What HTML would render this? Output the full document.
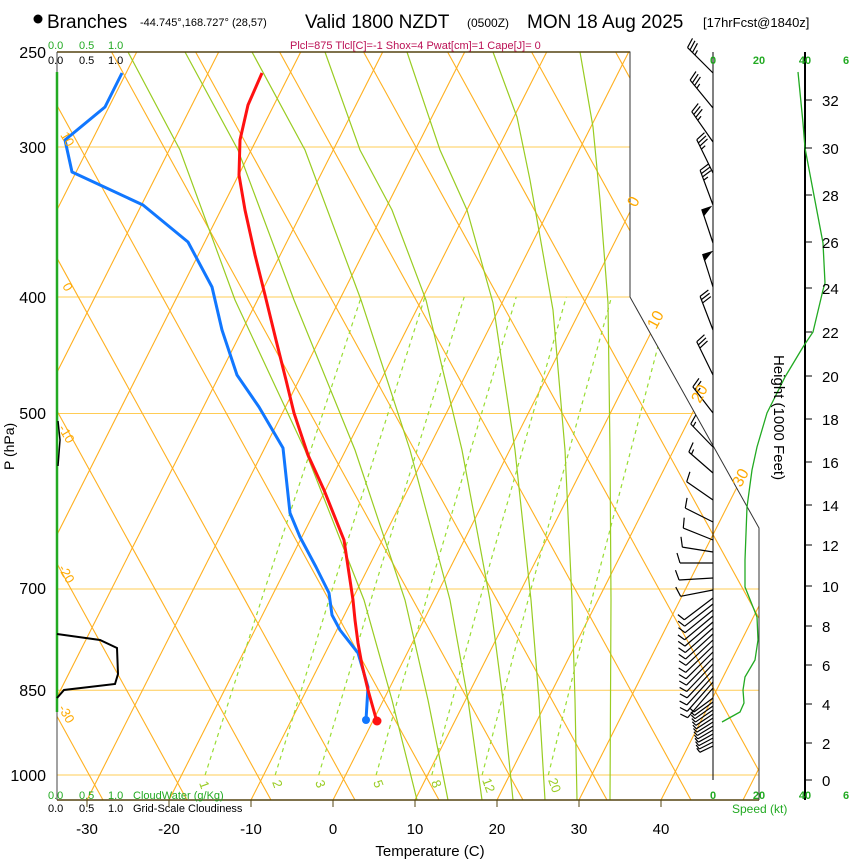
<!DOCTYPE html>
<html><head><meta charset="utf-8"><style>
body{margin:0;background:#fff;}
svg{display:block;font-family:"Liberation Sans",Arial,sans-serif;}
</style></head><body>
<svg width="850" height="860" viewBox="0 0 850 860" xmlns="http://www.w3.org/2000/svg">
<defs><clipPath id="cp"><polygon points="57,52 630,52 630,297 759,528 759,800 57,800"/></clipPath></defs>
<rect width="850" height="860" fill="#fff"/>
<g clip-path="url(#cp)">
<g stroke="#ffcc55" stroke-width="1">
<line x1="57" y1="147" x2="800" y2="147"/><line x1="57" y1="297" x2="800" y2="297"/><line x1="57" y1="413.5" x2="800" y2="413.5"/>
<line x1="57" y1="589" x2="800" y2="589"/><line x1="57" y1="690.2" x2="800" y2="690.2"/><line x1="57" y1="775" x2="800" y2="775"/>
</g>
<g stroke="#ffb020" stroke-width="1.1">
<line x1="-323" y1="800" x2="54.7" y2="52"/><line x1="-241" y1="800" x2="136.7" y2="52"/><line x1="-159" y1="800" x2="218.7" y2="52"/>
<line x1="-77" y1="800" x2="300.7" y2="52"/><line x1="5" y1="800" x2="382.7" y2="52"/><line x1="87" y1="800" x2="464.7" y2="52"/>
<line x1="169" y1="800" x2="546.7" y2="52"/><line x1="251" y1="800" x2="628.7" y2="52"/><line x1="333" y1="800" x2="710.7" y2="52"/>
<line x1="415" y1="800" x2="792.7" y2="52"/><line x1="497" y1="800" x2="874.7" y2="52"/><line x1="579" y1="800" x2="956.7" y2="52"/>
<line x1="661" y1="800" x2="1038.7" y2="52"/><line x1="743" y1="800" x2="1120.7" y2="52"/>
<line x1="103" y1="800" x2="-308.4" y2="52"/><line x1="187" y1="800" x2="-224.4" y2="52"/><line x1="271" y1="800" x2="-140.4" y2="52"/>
<line x1="355" y1="800" x2="-56.4" y2="52"/><line x1="439" y1="800" x2="27.6" y2="52"/><line x1="523" y1="800" x2="111.6" y2="52"/>
<line x1="607" y1="800" x2="195.6" y2="52"/><line x1="691" y1="800" x2="279.6" y2="52"/><line x1="775" y1="800" x2="363.6" y2="52"/>
<line x1="859" y1="800" x2="447.6" y2="52"/><line x1="943" y1="800" x2="531.6" y2="52"/><line x1="1027" y1="800" x2="615.6" y2="52"/>
<line x1="1111" y1="800" x2="699.6" y2="52"/><line x1="1195" y1="800" x2="783.6" y2="52"/>
</g>
<g fill="none" stroke="#99dd33" stroke-width="1.2" stroke-dasharray="4,4">
<polyline points="205.1,775 264.9,589 361.2,297"/>
<polyline points="275.2,775 332.4,589 424.9,297"/>
<polyline points="318.7,775 374.2,589 464.2,297"/>
<polyline points="376.1,775 429.4,589 516.2,297"/>
<polyline points="431.8,775 482.8,589 566.3,297"/>
<polyline points="482.1,775 531,589 611.5,297"/>
<polyline points="548.3,775 594.5,589 670.9,297"/>
</g>
<g fill="none" stroke="#99cc22" stroke-width="1.2">
<polyline points="128,52 180,150 235,300 305,450 364,600 392,700 417,800"/>
<polyline points="185,52 238,150 294,300 355,450 405,600 428,700 448,800"/>
<polyline points="252,52 305,150 361,300 410,450 450,600 468,700 482,800"/>
<polyline points="325,52 360,150 392,210 426,300 462,450 490,600 503,700 513,800"/>
<polyline points="407,52 440,150 467,210 493,303 515,450 531,600 539,700 545,800"/>
<polyline points="493,52 517,117 530,180 553,310 565,450 572,600 575,700 577,800"/>
<polyline points="580,52 593,127 600,200 608,303 610,450 611,600 610,800"/>
</g>
</g>
<polyline points="57,52 630,52 630,297 759,528 759,800" fill="none" stroke="#333" stroke-width="1"/>
<line x1="57" y1="52" x2="630" y2="52" stroke="#554411" stroke-width="1.5"/>
<line x1="57" y1="800" x2="759" y2="800" stroke="#554411" stroke-width="1.5"/>
<line x1="57" y1="52" x2="57" y2="800" stroke="#444" stroke-width="1"/>
<line x1="57" y1="72" x2="57" y2="712" stroke="#22aa22" stroke-width="2.5"/>
<polyline points="58,421 60,440 58,466" fill="none" stroke="#000" stroke-width="1.5"/>
<polyline points="57,634 100,640 117,648 118,674 115,684 64,690 57,698" fill="none" stroke="#000" stroke-width="2"/>
<polyline points="122,73 105,107 65,140 72,172 143,205 188,242 212,287 222,330 237,375 259,407 283,448 290,513 300,537 316,567 329,593 332,615 340,630 358,653 368,687 366,720" fill="none" stroke="#1177ff" stroke-width="3" stroke-linejoin="round"/>
<polyline points="262,73 248,105 240,140 239,175 245,210 255,255 265,295 276,340 286,380 294,413 308,455 324,490 344,540 353,600 355,620 358,643 362,665 368,690 377,722" fill="none" stroke="#ff1111" stroke-width="3" stroke-linejoin="round"/>
<circle cx="366" cy="720" r="4" fill="#1177ff"/>
<circle cx="377" cy="721" r="4.5" fill="#ff1111"/>
<line x1="713" y1="52" x2="713" y2="780" stroke="#000" stroke-width="1"/>
<line x1="805" y1="52" x2="805" y2="800" stroke="#000" stroke-width="2"/>
<g stroke="#000" stroke-width="1.2" fill="none">
<g transform="translate(713,73) rotate(225)"><path d="M0 0H36M36 0l3 10M32.5 0l3 10M29 0l3 10M25.5 0l1.5 5"/></g>
<g transform="translate(713,108) rotate(230.6)"><path d="M0 0H36M36 0l3 10M32.5 0l3 10M29 0l3 10M25.5 0l1.5 5"/></g>
<g transform="translate(713,142) rotate(235)"><path d="M0 0H37M37 0l3 10M33.5 0l3 10M30 0l3 10M26.5 0l1.5 5"/></g>
<g transform="translate(713,173) rotate(244)"><path d="M0 0H37M37 0l3 10M33.5 0l3 10M30 0l3 10M26.5 0l1.5 5"/></g>
<g transform="translate(713,205) rotate(249.6)"><path d="M0 0H37M37 0l3 10M33.5 0l3 10M30 0l3 10M26.5 0l1.5 5"/></g>
<g transform="translate(713,243) rotate(251.6)"><path d="M0 0H35"/><polygon points="35,0 35,9 29,0" fill="#000"/></g>
<g transform="translate(713,287) rotate(252.6)"><path d="M0 0H34"/><polygon points="34,0 34,9 28,0" fill="#000"/></g>
<g transform="translate(713,330) rotate(249)"><path d="M0 0H36M36 0l3 10M32.5 0l3 10M29 0l3 10"/></g>
<g transform="translate(713,375) rotate(244)"><path d="M0 0H37M37 0l3 10M33.5 0l3 10M30 0l3 10"/></g>
<g transform="translate(713,413) rotate(232.4)"><path d="M0 0H33M33 0l3 10M29.5 0l3 10M26 0l1.5 5"/></g>
<g transform="translate(713,447) rotate(226)"><path d="M0 0H32M32 0l3 10M28.5 0l1.5 5"/></g>
<g transform="translate(713,473) rotate(221)"><path d="M0 0H32M32 0l3 10M28.5 0l1.5 5"/></g>
<g transform="translate(713,500) rotate(214.7)"><path d="M0 0H32M32 0l3 10"/></g>
<g transform="translate(713,522) rotate(206.6)"><path d="M0 0H31M31 0l3 10"/></g>
<g transform="translate(713,540) rotate(201.8)"><path d="M0 0H32M32 0l3 10"/></g>
<g transform="translate(713,552) rotate(189)"><path d="M0 0H31M31 0l3 10"/></g>
<g transform="translate(713,563) rotate(180)"><path d="M0 0H33M33 0l3 10"/></g>
<g transform="translate(713,578) rotate(176.6)"><path d="M0 0H34M34 0l3 10"/></g>
<g transform="translate(713,590) rotate(169)"><path d="M0 0H33M33 0l3 10"/></g>
<g transform="translate(713,598) rotate(142.8)"><path d="M0 0H36M36 0l2 8"/></g>
<g transform="translate(713,604) rotate(141.9)"><path d="M0 0H36M36 0l2 8"/></g>
<g transform="translate(713,610) rotate(141)"><path d="M0 0H36M36 0l2 8"/></g>
<g transform="translate(713,616) rotate(140.1)"><path d="M0 0H37M37 0l2 8"/></g>
<g transform="translate(713,622) rotate(139.3)"><path d="M0 0H37M37 0l2 8"/></g>
<g transform="translate(713,628) rotate(138.5)"><path d="M0 0H37M37 0l2 8"/></g>
<g transform="translate(713,634) rotate(137.6)"><path d="M0 0H37M37 0l2 8"/></g>
<g transform="translate(713,640) rotate(136.8)"><path d="M0 0H37M37 0l2 8"/></g>
<g transform="translate(713,646) rotate(136)"><path d="M0 0H38M38 0l2 8"/></g>
<g transform="translate(713,652) rotate(135.2)"><path d="M0 0H38M38 0l2 8"/></g>
<g transform="translate(713,658) rotate(134.4)"><path d="M0 0H38M38 0l2 8"/></g>
<g transform="translate(713,664) rotate(133.6)"><path d="M0 0H38M38 0l2 8"/></g>
<g transform="translate(713,670) rotate(132.9)"><path d="M0 0H38M38 0l2 8"/></g>
<g transform="translate(713,676) rotate(132.1)"><path d="M0 0H39M39 0l2 8"/></g>
<g transform="translate(713,682) rotate(131.3)"><path d="M0 0H39M39 0l2 8"/></g>
<g transform="translate(713,688) rotate(130.5)"><path d="M0 0H39M39 0l2 8"/></g>
<g transform="translate(713,698) rotate(143.6)"><path d="M0 0H23.6M23.6 0l1 5"/></g>
<g transform="translate(713,702) rotate(144)"><path d="M0 0H22.8M22.8 0l1 5"/></g>
<g transform="translate(713,706) rotate(144.8)"><path d="M0 0H22M22 0l1 5"/></g>
<g transform="translate(713,710) rotate(145.5)"><path d="M0 0H21.3M21.3 0l1 5"/></g>
<g transform="translate(713,714) rotate(146.3)"><path d="M0 0H20.5M20.5 0l1 5"/></g>
<g transform="translate(713,718) rotate(147)"><path d="M0 0H19.8M19.8 0l1 5"/></g>
<g transform="translate(713,722) rotate(147.6)"><path d="M0 0H19M19 0l1 5"/></g>
<g transform="translate(713,726) rotate(148.7)"><path d="M0 0H18.3M18.3 0l1 5"/></g>
<g transform="translate(713,730) rotate(149.6)"><path d="M0 0H17.6M17.6 0l1 5"/></g>
<g transform="translate(713,734) rotate(150.8)"><path d="M0 0H16.8M16.8 0l1 5"/></g>
<g transform="translate(713,738) rotate(151.8)"><path d="M0 0H16.1M16.1 0l1 5"/></g>
<g transform="translate(713,742) rotate(152.9)"><path d="M0 0H15.4M15.4 0l1 5"/></g>
<g transform="translate(713,746) rotate(154.5)"><path d="M0 0H14.6M14.6 0l1 5"/></g>
</g>
<polyline points="798,72 803,123 805,148 823,243 825,283 823,290 813,332 803,347 785,377 767,413 757,447 752,470 747,507 745,560 745,587 757,617 758,640 755,660 745,677 743,690 744,703 740,712 722,722" fill="none" stroke="#22aa22" stroke-width="1.3"/>
<g stroke="#000" stroke-width="1">
<line x1="805" y1="780" x2="812" y2="780"/><line x1="805" y1="743" x2="812" y2="743"/><line x1="805" y1="704" x2="812" y2="704"/>
<line x1="805" y1="665" x2="812" y2="665"/><line x1="805" y1="626" x2="812" y2="626"/><line x1="805" y1="586" x2="812" y2="586"/>
<line x1="805" y1="545" x2="812" y2="545"/><line x1="805" y1="505" x2="812" y2="505"/><line x1="805" y1="462" x2="812" y2="462"/>
<line x1="805" y1="419" x2="812" y2="419"/><line x1="805" y1="376" x2="812" y2="376"/><line x1="805" y1="332" x2="812" y2="332"/>
<line x1="805" y1="288" x2="812" y2="288"/><line x1="805" y1="242" x2="812" y2="242"/><line x1="805" y1="195" x2="812" y2="195"/>
<line x1="805" y1="148" x2="812" y2="148"/><line x1="805" y1="100" x2="812" y2="100"/>
</g>
<g font-size="15" fill="#000">
<text x="822" y="786">0</text><text x="822" y="749">2</text><text x="822" y="710">4</text><text x="822" y="671">6</text>
<text x="822" y="632">8</text><text x="822" y="592">10</text><text x="822" y="551">12</text><text x="822" y="511">14</text>
<text x="822" y="468">16</text><text x="822" y="425">18</text><text x="822" y="382">20</text><text x="822" y="338">22</text>
<text x="822" y="294">24</text><text x="822" y="248">26</text><text x="822" y="201">28</text><text x="822" y="154">30</text>
<text x="822" y="106">32</text>
</g>
<text x="0" y="0" font-size="15" transform="translate(774,355) rotate(90)">Height (1000 Feet)</text>
<g fill="#22aa22" font-size="11" font-weight="bold" text-anchor="middle">
<text x="713" y="64">0</text><text x="759" y="64">20</text><text x="805" y="64">40</text><text x="846" y="64">6</text>
<text x="713" y="799">0</text><text x="759" y="799">20</text><text x="805" y="799">40</text><text x="846" y="799">6</text>
</g>
<text x="732" y="813" font-size="12" fill="#22aa22">Speed (kt)</text>
<circle cx="38" cy="19" r="4.5" fill="#000"/>
<text x="47" y="28" font-size="19">Branches</text>
<text x="140" y="26" font-size="11">-44.745°,168.727° (28,57)</text>
<text x="305" y="28" font-size="19">Valid 1800 NZDT</text>
<text x="467" y="27" font-size="12">(0500Z)</text>
<text x="527" y="28" font-size="19">MON 18 Aug 2025</text>
<text x="703" y="27" font-size="13">[17hrFcst@1840z]</text>
<text x="290" y="49" font-size="11" fill="#bb1155">Plcl=875 Tlcl[C]=-1 Shox=4 Pwat[cm]=1 Cape[J]= 0</text>
<g font-size="11">
<text x="48" y="49" fill="#22aa22">0.0</text><text x="79" y="49" fill="#22aa22">0.5</text><text x="108" y="49" fill="#22aa22">1.0</text>
<text x="48" y="64">0.0</text><text x="79" y="64">0.5</text><text x="108" y="64">1.0</text>
<text x="48" y="799" fill="#22aa22">0.0</text><text x="79" y="799" fill="#22aa22">0.5</text><text x="108" y="799" fill="#22aa22">1.0</text><text x="133" y="799" fill="#22aa22">CloudWater (g/Kg)</text>
<text x="48" y="812">0.0</text><text x="79" y="812">0.5</text><text x="108" y="812">1.0</text><text x="133" y="812">Grid-Scale Cloudiness</text>
</g>
<g font-size="16" text-anchor="end">
<text x="46" y="58">250</text><text x="46" y="153">300</text><text x="46" y="303">400</text><text x="46" y="419">500</text><text x="46" y="594">700</text><text x="46" y="696">850</text><text x="46" y="781">1000</text>
</g>
<text font-size="14" transform="translate(14,470) rotate(-90)">P (hPa)</text>
<g stroke="#554411" stroke-width="1">
<line x1="87" y1="800" x2="87" y2="807"/><line x1="169" y1="800" x2="169" y2="807"/><line x1="251" y1="800" x2="251" y2="807"/>
<line x1="333" y1="800" x2="333" y2="807"/><line x1="415" y1="800" x2="415" y2="807"/><line x1="497" y1="800" x2="497" y2="807"/>
<line x1="579" y1="800" x2="579" y2="807"/><line x1="661" y1="800" x2="661" y2="807"/>
</g>
<g font-size="15" text-anchor="middle">
<text x="87" y="834">-30</text><text x="169" y="834">-20</text><text x="251" y="834">-10</text><text x="333" y="834">0</text>
<text x="415" y="834">10</text><text x="497" y="834">20</text><text x="579" y="834">30</text><text x="661" y="834">40</text>
</g>
<text x="430" y="856" font-size="15" text-anchor="middle">Temperature (C)</text>
<g fill="#ffaa00" font-size="16">
<text transform="translate(636,208) rotate(-62)">0</text>
<text transform="translate(656,330) rotate(-62)">10</text>
<text transform="translate(700,404) rotate(-62)">20</text>
<text transform="translate(741,488) rotate(-62)">30</text>
</g>
<g fill="#ffaa00" font-size="13">
<text transform="translate(60,135) rotate(60)">10</text>
<text transform="translate(62,286) rotate(60)">0</text>
<text transform="translate(58,428) rotate(60)">-10</text>
<text transform="translate(58,568) rotate(60)">-20</text>
<text transform="translate(58,708) rotate(60)">-30</text>
</g>
<g fill="#99cc22" font-size="13">
<text transform="translate(199,783) rotate(70)">1</text>
<text transform="translate(272,782) rotate(70)">2</text>
<text transform="translate(315,782) rotate(70)">3</text>
<text transform="translate(373,782) rotate(70)">5</text>
<text transform="translate(431,782) rotate(70)">8</text>
<text transform="translate(482,780) rotate(70)">12</text>
<text transform="translate(548,780) rotate(70)">20</text>
</g>
</svg>
</body></html>
